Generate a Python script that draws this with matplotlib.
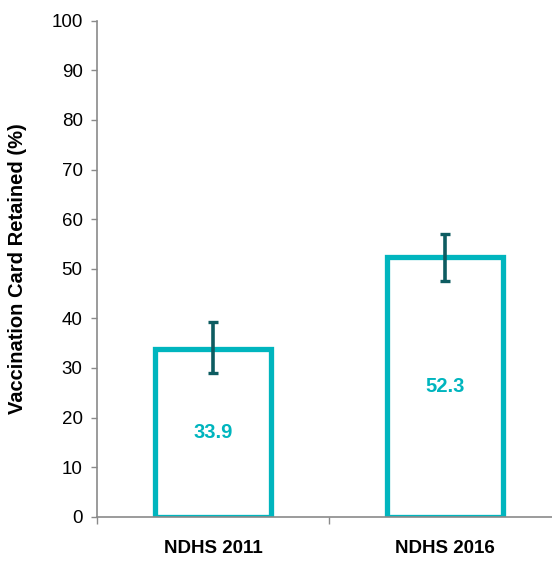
import matplotlib.pyplot as plt
import numpy as np

# data
surveys = ['NDHS 2011', 'NDHS 2016']
retained = [33.9, 52.3]
ci_low = [28.9, 47.5]
ci_high = [39.2, 56.9]

teal = '#00b5be'
dark_teal = '#0d5c61'
grey = '#8a8a8a'

plt.rcParams['font.family'] = ['Liberation Sans', 'DejaVu Sans']

fig = plt.figure(figsize=(5.52, 5.64), dpi=100)
ax = fig.add_axes([97 / 552, 1 - 516.7 / 564, 464 / 552, 496 / 564])

x = np.arange(len(surveys))
ax.bar(x, retained, width=0.5, facecolor='white', edgecolor=teal,
       linewidth=3.8, zorder=2)

yerr = [np.array(retained) - np.array(ci_low), np.array(ci_high) - np.array(retained)]
ax.errorbar(x, retained, yerr=yerr, fmt='none', ecolor=dark_teal,
            elinewidth=2.6, capsize=3.3, capthick=2.4, zorder=3)

for xi, v in zip(x, retained):
    ax.text(xi, v / 2, f'{v:.1f}', ha='center', va='center', color=teal,
            fontsize=14.5, fontweight='bold', zorder=4)

ax.set_xlim(-0.5, 1.5)
ax.set_ylim(0, 100)
ax.set_yticks(np.arange(0, 101, 10))
ax.tick_params(axis='y', direction='out', length=4.3, width=1, color=grey,
               labelsize=13.5, pad=6)

# category boundary ticks, labels sit at category centres
ax.set_xticks([-0.5, 0.5, 1.5])
ax.set_xticklabels([])
ax.set_xticks(x, minor=True)
ax.set_xticklabels(surveys, minor=True, fontsize=13.5, fontweight='bold')
ax.tick_params(axis='x', which='major', direction='out', length=5, width=1, color=grey)
ax.tick_params(axis='x', which='minor', length=0, pad=17)

for s in ['top', 'right']:
    ax.spines[s].set_visible(False)
for s in ['left', 'bottom']:
    ax.spines[s].set_color(grey)
    ax.spines[s].set_linewidth(1.2)
    ax.spines[s].set_zorder(5)

ax.set_ylabel('Vaccination Card Retained (%)', fontsize=14.5, fontweight='bold')
ax.yaxis.set_label_coords(-0.151, 0.5)

fig.savefig('out.png', dpi=100)
